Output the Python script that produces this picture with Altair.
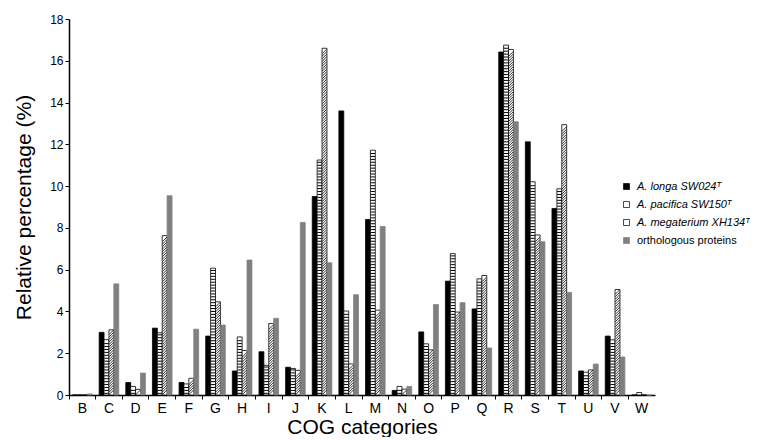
import altair as alt
import pandas as pd

categories = list("BCDEFGHIJKLMNOPQRSTUVW")
series = ["A. longa SW024ᵀ", "A. pacifica SW150ᵀ", "A. megaterium XH134ᵀ", "orthologous proteins"]
longa = [0, 3.0, 0.6, 3.2, 0.6, 2.82, 1.15, 2.07, 1.33, 9.5, 13.6, 8.4, 0.22, 3.02, 5.45, 4.12, 16.42, 12.12, 8.93, 1.15, 2.82, 0]
pacifica = [0, 2.65, 0.41, 2.98, 0.53, 6.07, 2.78, 1.42, 1.27, 11.25, 4.02, 11.72, 0.41, 2.45, 6.77, 5.56, 16.75, 10.21, 9.87, 1.09, 2.64, 0.12]
megaterium = [0, 3.12, 0.27, 7.63, 0.8, 4.46, 2.13, 3.42, 1.18, 16.6, 1.49, 4.06, 0.28, 2.16, 3.97, 5.72, 16.54, 7.66, 12.94, 1.2, 5.05, 0]
orthologous = [0.05, 5.32, 1.05, 9.54, 3.15, 3.35, 6.46, 3.67, 8.26, 6.33, 4.8, 8.07, 0.41, 4.33, 4.42, 2.25, 13.08, 7.34, 4.91, 1.48, 1.82, 0]

rows = []
for s, vals in zip(series, [longa, pacifica, megaterium, orthologous]):
    for c, v in zip(categories, vals):
        rows.append({"cat": c, "series": s, "value": v})
df = pd.DataFrame(rows)

FONT = "Liberation Sans"

x_enc = alt.X(
    "cat:N",
    sort=categories,
    scale=alt.Scale(domain=categories, paddingInner=0, paddingOuter=0),
    axis=alt.Axis(
        title="COG categories",
        labelAngle=0,
        bandPosition=0,
        labelFontSize=14,
        labelPadding=2,
        tickSize=4,
        tickColor="black",
        domainColor="black",
        domainWidth=1.5,
        labelColor="black",
        titleFontSize=21,
        titleFontWeight="normal",
        titleColor="black",
        titlePadding=1,
        grid=False,
    ),
)
xo_enc = alt.XOffset(
    "series:N",
    sort=series,
    scale=alt.Scale(domain=series, paddingInner=0, paddingOuter=0.72),
)
y_enc = alt.Y(
    "value:Q",
    scale=alt.Scale(domain=[0, 18], nice=False),
    axis=alt.Axis(
        title="Relative percentage (%)",
        values=list(range(0, 19, 2)),
        labelFontSize=12,
        labelPadding=2,
        tickSize=4,
        tickColor="black",
        domainColor="black",
        domainWidth=1.5,
        labelColor="black",
        titleFontSize=21,
        titleFontWeight="normal",
        titleColor="black",
        titlePadding=15,
        grid=False,
    ),
)

bars = alt.Chart(df).mark_bar(strokeWidth=0.8).encode(
    x=x_enc,
    xOffset=xo_enc,
    y=y_enc,
    fill=alt.Fill(
        "series:N",
        sort=series,
        scale=alt.Scale(domain=series, range=["black", "white", "white", "#808080"]),
        legend=alt.Legend(
            title=None,
            orient="none",
            legendX=552,
            legendY=162,
            symbolType="square",
            symbolSize=36,
            symbolStrokeColor="black",
            symbolStrokeWidth=0.7,
            labelFontSize=11,
            labelColor="black",
            labelFontStyle={"expr": "datum.label == 'orthologous proteins' ? 'normal' : 'italic'"},
            rowPadding=6,
            labelOffset=5,
            padding=0,
        ),
    ),
    stroke=alt.Stroke(
        "series:N",
        sort=series,
        scale=alt.Scale(domain=series, range=["black", "black", "black", "#808080"]),
        legend=None,
    ),
)

stripes = (
    alt.Chart(df)
    .transform_filter(alt.datum.series == series[1])
    .transform_calculate(s="sequence(0.08, datum.value - 0.05, 0.14)")
    .transform_flatten(["s"])
    .mark_tick(thickness=1, size=4.4, color="black", opacity=1)
    .encode(x=alt.X("cat:N", sort=categories), xOffset=alt.XOffset("series:N", sort=series), y=alt.Y("s:Q"))
)

hatch = (
    alt.Chart(df)
    .transform_filter(alt.datum.series == series[2])
    .transform_calculate(s="sequence(0.13, datum.value - 0.1, 0.12)")
    .transform_flatten(["s"])
    .mark_point(shape="M-1,1L1,-1", size=19, filled=False, strokeWidth=0.8, color="black", opacity=1)
    .encode(x=alt.X("cat:N", sort=categories), xOffset=alt.XOffset("series:N", sort=series), y=alt.Y("s:Q"))
)

chart = (
    alt.layer(bars, stripes, hatch)
    .properties(width=586, height=376, padding={"left": 5, "top": 5, "right": 0, "bottom": 0})
    .configure(font=FONT)
    .configure_view(stroke=None)
)

chart.save("out.html", embed_options={"renderer": "svg", "actions": False})
